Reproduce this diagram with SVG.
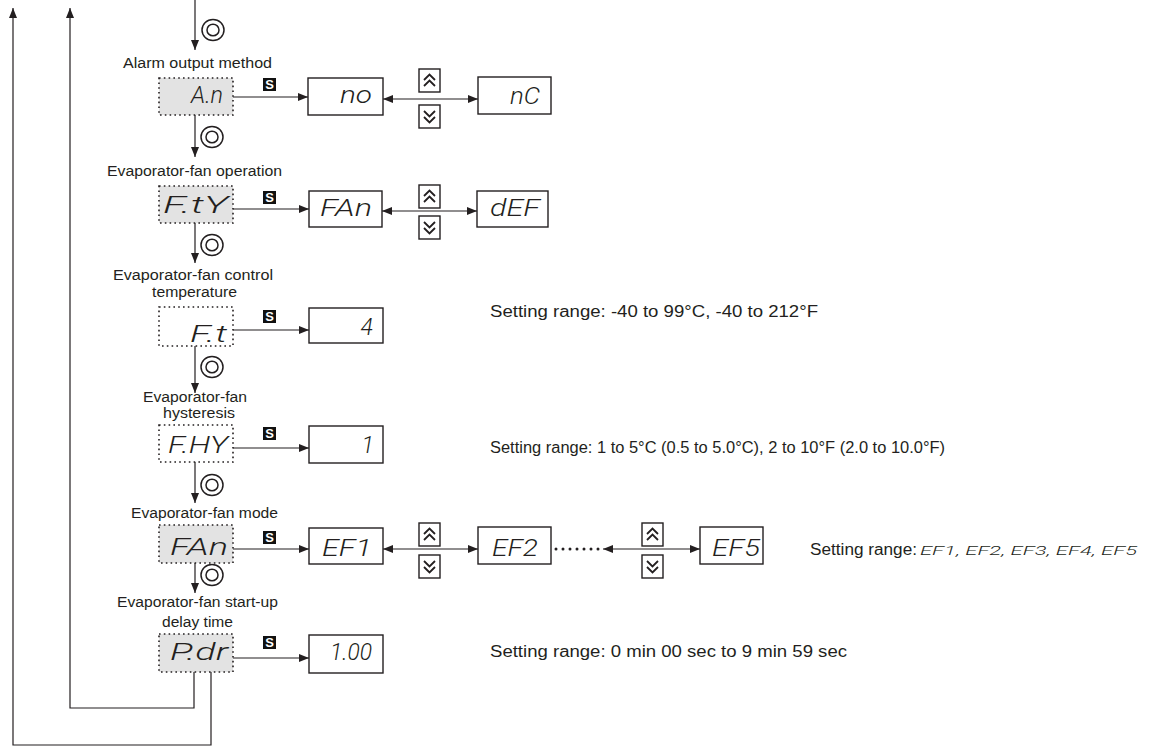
<svg xmlns="http://www.w3.org/2000/svg" xmlns:xlink="http://www.w3.org/1999/xlink" width="1154" height="747" viewBox="0 0 1154 747">
<style>
.ln{fill:none;stroke:#231f20;stroke-width:1.2}
.arr{marker-end:url(#ah)}
.dbl{marker-start:url(#ah);marker-end:url(#ah)}
.dot{fill:#e3e3e3;stroke:#231f20;stroke-width:1.6;stroke-dasharray:1.6 3.2}
.dotw{fill:#ffffff;stroke:#231f20;stroke-width:1.6;stroke-dasharray:1.6 3.2}
.box{fill:#ffffff;stroke:#231f20;stroke-width:1.4}
.lbl{font-family:"Liberation Sans",Arial,sans-serif;font-size:14px;fill:#231f20}
.rng{font-family:"Liberation Sans",Arial,sans-serif;font-size:16px;fill:#231f20}
.seg{font-family:Roboto,Inter,"DejaVu Sans",sans-serif;font-style:italic;font-weight:300;font-size:23px;fill:#231f20}
.segs{font-family:Roboto,Inter,"DejaVu Sans",sans-serif;font-style:italic;font-weight:300;font-size:13px;fill:#231f20}
.skey{font-family:"Liberation Sans",Arial,sans-serif;font-weight:bold;font-size:13px;fill:#ffffff}
.chev{fill:none;stroke:#231f20;stroke-width:1.8}
</style>
<defs>
<marker id="ah" viewBox="0 0 10 8" refX="10" refY="4" markerWidth="10" markerHeight="8" markerUnits="userSpaceOnUse" orient="auto-start-reverse">
<path d="M0,0 L10,4 L0,8 z" fill="#231f20"/>
</marker>
<g id="up"><rect x="0" y="0" width="21" height="23" class="box"/><polyline class="chev" points="5,11 10.5,5.5 16,11"/><polyline class="chev" points="5,17 10.5,11.5 16,17"/></g>
<g id="dn"><rect x="0" y="0" width="21" height="23" class="box"/><polyline class="chev" points="5,6 10.5,11.5 16,6"/><polyline class="chev" points="5,12 10.5,17.5 16,12"/></g>
<g id="key"><ellipse cx="0" cy="0" rx="11" ry="10.5" fill="none" stroke="#231f20" stroke-width="1.5"/><ellipse cx="0" cy="0" rx="6" ry="5.8" fill="none" stroke="#231f20" stroke-width="1.5"/></g>
<g id="skey"><rect x="0" y="0" width="13" height="13" fill="#111111"/><text x="6.5" y="11.2" text-anchor="middle" class="skey">S</text></g>
</defs>
<rect width="1154" height="747" fill="#ffffff"/>

<g id="connectors">
<line class="ln arr" x1="195" y1="0" x2="195" y2="50"/>
<line class="ln arr" x1="195" y1="115" x2="195" y2="157"/>
<line class="ln arr" x1="195" y1="223" x2="195" y2="263"/>
<line class="ln arr" x1="195" y1="346" x2="195" y2="393"/>
<line class="ln arr" x1="195" y1="462" x2="195" y2="503"/>
<line class="ln arr" x1="195" y1="563" x2="195" y2="593"/>
<polyline class="ln arr" points="194,672 194,708 70,708 70,8"/>
<polyline class="ln arr" points="211,672 211,745 13,745 13,8"/>
<line class="ln arr" x1="233" y1="97" x2="308" y2="97"/>
<line class="ln dbl" x1="383" y1="99" x2="478" y2="99"/>
<line class="ln arr" x1="233" y1="209" x2="309" y2="209"/>
<line class="ln dbl" x1="382" y1="211" x2="477" y2="211"/>
<line class="ln arr" x1="233" y1="330" x2="309" y2="330"/>
<line class="ln arr" x1="233" y1="448" x2="309" y2="448"/>
<line class="ln arr" x1="233" y1="549" x2="309" y2="549"/>
<line class="ln dbl" x1="383" y1="549" x2="478" y2="549"/>
<line class="ln dbl" x1="603" y1="549" x2="700" y2="549"/>
<line class="ln arr" x1="233" y1="658" x2="309" y2="658"/>
<g fill="#231f20"><circle cx="556" cy="549" r="1.5"/><circle cx="563" cy="549" r="1.5"/><circle cx="570" cy="549" r="1.5"/><circle cx="577" cy="549" r="1.5"/><circle cx="584" cy="549" r="1.5"/><circle cx="591" cy="549" r="1.5"/><circle cx="598" cy="549" r="1.5"/></g>
<use xlink:href="#key" x="213" y="30"/>
<use xlink:href="#key" x="212" y="137"/>
<use xlink:href="#key" x="212" y="245"/>
<use xlink:href="#key" x="212" y="367"/>
<use xlink:href="#key" x="212" y="485"/>
<use xlink:href="#key" x="212" y="575"/>
<use xlink:href="#skey" x="263" y="78"/>
<use xlink:href="#skey" x="263" y="191"/>
<use xlink:href="#skey" x="263" y="310"/>
<use xlink:href="#skey" x="263" y="427"/>
<use xlink:href="#skey" x="263" y="531"/>
<use xlink:href="#skey" x="263" y="636"/>
<use xlink:href="#up" x="419" y="69"/>
<use xlink:href="#dn" x="419" y="105"/>
<use xlink:href="#up" x="419" y="185"/>
<use xlink:href="#dn" x="419" y="216"/>
<use xlink:href="#up" x="419" y="523"/>
<use xlink:href="#dn" x="419" y="555"/>
<use xlink:href="#up" x="642" y="523"/>
<use xlink:href="#dn" x="642" y="555"/>
</g>

<g id="row1">
<text class="lbl" x="123" y="68" textLength="149" lengthAdjust="spacingAndGlyphs">Alarm output method</text>
<g id="node-An"><rect class="dot" x="159" y="78" width="74" height="37"/><text class="seg" x="191" y="103" textLength="32" lengthAdjust="spacingAndGlyphs">A.n</text></g>
<g id="node-no"><rect class="box" x="308" y="78" width="75" height="37"/><text class="seg" x="340" y="103" textLength="32" lengthAdjust="spacingAndGlyphs">no</text></g>
<g id="node-nC"><rect class="box" x="478" y="77" width="73" height="37"/><text class="seg" x="510" y="104" textLength="30" lengthAdjust="spacingAndGlyphs">nC</text></g>
</g>

<g id="row2">
<text class="lbl" x="107" y="176" textLength="175" lengthAdjust="spacingAndGlyphs">Evaporator-fan operation</text>
<g id="node-Fty"><rect class="dot" x="159" y="186" width="74" height="37"/><text class="seg" x="163" y="213" textLength="65" lengthAdjust="spacingAndGlyphs">F.tY</text></g>
<g id="node-FAn1"><rect class="box" x="309" y="191" width="73" height="36"/><text class="seg" x="320" y="216" textLength="52" lengthAdjust="spacingAndGlyphs">FAn</text></g>
<g id="node-dEF"><rect class="box" x="477" y="191" width="71" height="36"/><text class="seg" x="490" y="216" textLength="50" lengthAdjust="spacingAndGlyphs">dEF</text></g>
</g>

<g id="row3">
<text class="lbl" x="113" y="280" textLength="160" lengthAdjust="spacingAndGlyphs">Evaporator-fan control</text>
<text class="lbl" x="152" y="297" textLength="85" lengthAdjust="spacingAndGlyphs">temperature</text>
<g id="node-Ft"><rect class="dotw" x="159" y="307" width="74" height="39"/><text class="seg" x="190" y="342" textLength="37" lengthAdjust="spacingAndGlyphs">F.t</text></g>
<g id="node-4"><rect class="box" x="309" y="308" width="74" height="35"/><text class="seg" x="373" y="335" text-anchor="end">4</text></g>
<text class="rng" x="490" y="317" textLength="328" lengthAdjust="spacingAndGlyphs">Setting range: -40 to 99°C, -40 to 212°F</text>
</g>

<g id="row4">
<text class="lbl" x="143" y="402" textLength="104" lengthAdjust="spacingAndGlyphs">Evaporator-fan</text>
<text class="lbl" x="163" y="418" textLength="72" lengthAdjust="spacingAndGlyphs">hysteresis</text>
<g id="node-FHY"><rect class="dotw" x="159" y="425" width="74" height="37"/><text class="seg" x="168" y="453" textLength="60" lengthAdjust="spacingAndGlyphs">F.HY</text></g>
<g id="node-1"><rect class="box" x="309" y="426" width="74" height="37"/><text class="seg" x="374" y="453" text-anchor="end">1</text></g>
<text class="rng" x="490" y="453" textLength="455" lengthAdjust="spacingAndGlyphs">Setting range: 1 to 5°C (0.5 to 5.0°C), 2 to 10°F (2.0 to 10.0°F)</text>
</g>

<g id="row5">
<text class="lbl" x="131" y="518" textLength="147" lengthAdjust="spacingAndGlyphs">Evaporator-fan mode</text>
<g id="node-FAn2"><rect class="dot" x="159" y="525" width="74" height="38"/><text class="seg" x="170" y="555" textLength="58" lengthAdjust="spacingAndGlyphs">FAn</text></g>
<g id="node-EF1"><rect class="box" x="309" y="528" width="74" height="36"/><text class="seg" x="322" y="556" textLength="50" lengthAdjust="spacingAndGlyphs">EF1</text></g>
<g id="node-EF2"><rect class="box" x="478" y="527" width="73" height="37"/><text class="seg" x="492" y="556" textLength="46" lengthAdjust="spacingAndGlyphs">EF2</text></g>
<g id="node-EF5"><rect class="box" x="700" y="527" width="63" height="37"/><text class="seg" x="712" y="556" textLength="48" lengthAdjust="spacingAndGlyphs">EF5</text></g>
<text class="rng" x="810" y="555" textLength="107" lengthAdjust="spacingAndGlyphs">Setting range:</text>
<text class="segs" x="920" y="555" textLength="217" lengthAdjust="spacingAndGlyphs">EF1, EF2, EF3, EF4, EF5</text>
</g>

<g id="row6">
<text class="lbl" x="117" y="607" textLength="161" lengthAdjust="spacingAndGlyphs">Evaporator-fan start-up</text>
<text class="lbl" x="162" y="627" textLength="71" lengthAdjust="spacingAndGlyphs">delay time</text>
<g id="node-Pdr"><rect class="dot" x="159" y="634" width="74" height="38"/><text class="seg" x="170" y="660" textLength="58" lengthAdjust="spacingAndGlyphs">P.dr</text></g>
<g id="node-100"><rect class="box" x="309" y="635" width="74" height="38"/><text class="seg" x="330" y="660" textLength="42" lengthAdjust="spacingAndGlyphs">1.00</text></g>
<text class="rng" x="490" y="657" textLength="357" lengthAdjust="spacingAndGlyphs">Setting range: 0 min 00 sec to 9 min 59 sec</text>
</g>
</svg>
